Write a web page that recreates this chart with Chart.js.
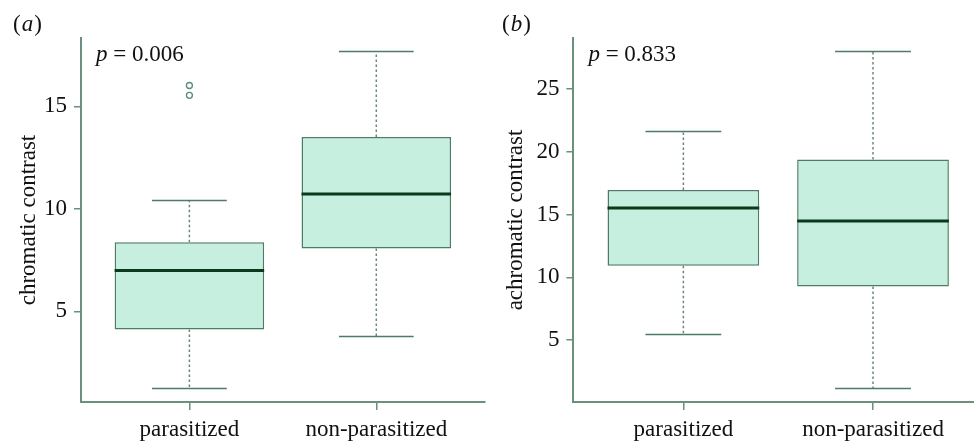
<!DOCTYPE html>
<html>
<head>
<meta charset="utf-8">
<script src="https://cdn.jsdelivr.net/npm/chart.js@4/dist/chart.umd.min.js"></script>
<style>
  html, body { margin: 0; padding: 0; background: #fff; }
  body { width: 974px; height: 442px; overflow: hidden; position: relative; }
  .panel { position: absolute; top: 0; height: 442px; }
</style>
</head>
<body>
<div class="panel" style="left:0;width:490px"><canvas id="chartA"></canvas></div>
<div class="panel" style="left:490px;width:493px"><canvas id="chartB"></canvas></div>
<script>
const categories = ['parasitized', 'non-parasitized'];

// (a) chromatic contrast
const chromLow = [1.24, 3.78];
const chromQ1 = [4.12, 8.07];
const chromMedian = [7.0, 10.73];
const chromQ3 = [8.37, 13.51];
const chromHigh = [10.41, 17.68];
const chromOutliers = [[15.54, 16.02], []];
const chromTicks = [5, 10, 15];

// (b) achromatic contrast
const achromLow = [5.45, 1.15];
const achromQ1 = [10.93, 9.28];
const achromMedian = [15.53, 14.5];
const achromQ3 = [16.97, 19.39];
const achromHigh = [21.62, 28.0];
const achromOutliers = [[], []];
const achromTicks = [5, 10, 15, 20, 25];

const serif = "'Liberation Serif', 'DejaVu Serif', serif";
const axisColor = '#6b907c';
const boxFill = '#c6efe0';
const boxLine = '#4d7c64';
const medianColor = '#0a3a1c';
const whiskerColor = '#6e857a';

function makeBoxplot(id, o) {
  const xs = categories.map((c, i) => i + 1);
  // R style limits: data range padded by 4%
  const all = o.low.concat(o.high, ...o.outliers);
  const lo = Math.min(...all), hi = Math.max(...all);
  const yPad = (hi - lo) * 0.04;

  const medianPts = [], capPts = [], whiskerPts = [], outlierPts = [];
  xs.forEach((x, i) => {
    medianPts.push({x: x - 0.4, y: o.median[i]}, {x: x + 0.4, y: o.median[i]}, {x: x, y: null});
    capPts.push({x: x - 0.2, y: o.high[i]}, {x: x + 0.2, y: o.high[i]}, {x: x, y: null});
    capPts.push({x: x - 0.2, y: o.low[i]}, {x: x + 0.2, y: o.low[i]}, {x: x, y: null});
    whiskerPts.push({x: x, y: o.q3[i]}, {x: x, y: o.high[i]}, {x: x, y: null});
    whiskerPts.push({x: x, y: o.q1[i]}, {x: x, y: o.low[i]}, {x: x, y: null});
    o.outliers[i].forEach(v => outlierPts.push({x: x, y: v}));
  });

  const labels = {
    id: 'panelText',
    afterDraw(chart) {
      const ctx = chart.ctx;
      ctx.save();
      ctx.fillStyle = '#111';
      ctx.textBaseline = 'alphabetic';
      // panel letter
      let x = o.letterX;
      ctx.font = '23px ' + serif;
      ctx.fillText('(', x, 31); x += ctx.measureText('(').width + 1;
      ctx.font = 'italic 23px ' + serif;
      ctx.fillText(o.letter, x, 31); x += ctx.measureText(o.letter).width + 1;
      ctx.font = '23px ' + serif;
      ctx.fillText(')', x, 31);
      // p value
      x = chart.chartArea.left + 15;
      ctx.font = 'italic 23px ' + serif;
      ctx.fillText('p', x, 61); x += ctx.measureText('p').width;
      ctx.font = '23px ' + serif;
      ctx.fillText(' = ' + o.p, x, 61);
      ctx.restore();
    }
  };

  return new Chart(document.getElementById(id), {
    type: 'bar',
    data: {
      datasets: [
        {type: 'line', data: medianPts, borderColor: medianColor, borderWidth: 3,
         pointRadius: 0, spanGaps: false, order: 0},
        {type: 'scatter', data: outlierPts, pointStyle: 'circle', pointRadius: 3,
         pointBorderWidth: 1.3, pointBorderColor: '#5a8a74', pointBackgroundColor: 'rgba(0,0,0,0)', order: 1},
        {type: 'line', data: capPts, borderColor: boxLine, borderWidth: 1.5,
         pointRadius: 0, spanGaps: false, order: 2},
        {type: 'bar', data: xs.map((x, i) => ({x: x, y: [o.q1[i], o.q3[i]]})),
         backgroundColor: boxFill, borderColor: boxLine, borderWidth: 1.5, borderSkipped: false,
         barPercentage: 0.8, categoryPercentage: 1.0, order: 3},
        {type: 'line', data: whiskerPts, borderColor: whiskerColor, borderWidth: 1.5,
         borderDash: [2.5, 2.5], pointRadius: 0, spanGaps: false, order: 4}
      ]
    },
    options: {
      responsive: true,
      maintainAspectRatio: false,
      animation: false,
      layout: {padding: {top: 38, right: 0, left: 0, bottom: 0}},
      plugins: {legend: {display: false}, tooltip: {enabled: false}},
      scales: {
        x: {
          type: 'linear', min: 0.42, max: 2.58, offset: false,
          grid: {offset: false, drawOnChartArea: false, drawTicks: true, tickLength: 8, color: axisColor, lineWidth: 1.5},
          border: {display: true, color: axisColor, width: 2},
          afterBuildTicks: s => { s.ticks = xs.map(v => ({value: v})); },
          afterFit: s => { s.height = 40; },
          ticks: {
            callback: v => categories[v - 1],
            font: {family: serif, size: 23}, color: '#111', padding: 6, maxRotation: 0, autoSkip: false
          }
        },
        y: {
          type: 'linear', min: lo - yPad, max: hi + yPad,
          grid: {drawOnChartArea: false, drawTicks: true, tickLength: 7, color: axisColor, lineWidth: 1.5},
          border: {display: true, color: axisColor, width: 2},
          afterBuildTicks: s => { s.ticks = o.ticks.map(v => ({value: v})); },
          afterFit: s => { s.width = o.axisW; },
          ticks: {font: {family: serif, size: 23}, color: '#111', padding: 7},
          title: {display: true, text: o.title, font: {family: serif, size: 23}, color: '#111',
                  padding: {top: o.titlePad, bottom: 0}}
        }
      }
    },
    plugins: [labels]
  });
}

makeBoxplot('chartA', {
  low: chromLow, q1: chromQ1, median: chromMedian, q3: chromQ3, high: chromHigh,
  outliers: chromOutliers, ticks: chromTicks, title: 'chromatic contrast',
  letter: 'a', p: '0.006', letterX: 13, axisW: 81, titlePad: 15
});
makeBoxplot('chartB', {
  low: achromLow, q1: achromQ1, median: achromMedian, q3: achromQ3, high: achromHigh,
  outliers: achromOutliers, ticks: achromTicks, title: 'achromatic contrast',
  letter: 'b', p: '0.833', letterX: 12, axisW: 83.4, titlePad: 12
});
</script>
</body>
</html>
